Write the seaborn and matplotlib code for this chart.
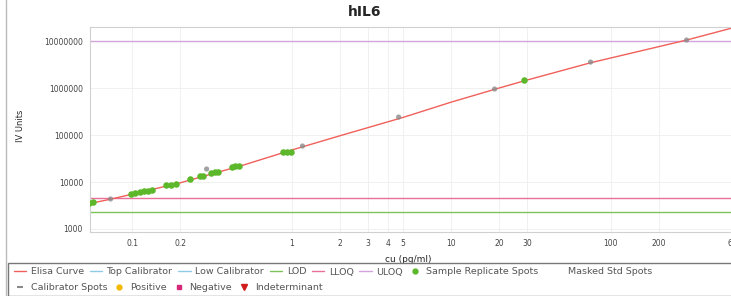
import numpy as np
import pandas as pd
import matplotlib
matplotlib.use("Agg")
import matplotlib.pyplot as plt
import seaborn as sns
from matplotlib.lines import Line2D
from matplotlib.patches import Rectangle

# ---------------- data ----------------
curve_x = [0.054, 0.073, 0.1, 0.2, 0.5, 1, 2, 5, 10, 20, 30, 75, 300, 700]
curve_y = [3480, 4300, 5500, 9600, 23000, 47900, 96000, 237000, 500000,
           1.0e6, 1.48e6, 3.45e6, 1.05e7, 2.25e7]

sample_x = [0.0537, 0.0569, 0.0986, 0.1046, 0.112, 0.119, 0.126, 0.134,
            0.164, 0.174, 0.187, 0.232, 0.268, 0.280, 0.314, 0.333, 0.347,
            0.420, 0.444, 0.471, 0.878, 0.930, 0.986, 28.8]
sample_y = [3570, 3750, 5560, 5820, 6130, 6430, 6590, 6760,
            8630, 8840, 9070, 11600, 13400, 13700, 15500, 16300, 16700,
            20800, 21900, 22400, 42500, 43400, 44400, 1.48e6]

calib_x = [0.0732, 0.293, 1.17, 4.69, 18.75, 75, 300]
calib_y = [4350, 18900, 58300, 241000, 953000, 3.57e6, 1.05e7]

uloq = 1.0e7
lloq = 4500
lod = 2300

x_ticks = [0.1, 0.2, 1, 2, 3, 4, 5, 10, 20, 30, 100, 200, 600]
x_tick_labels = ["0.1", "0.2", "1", "2", "3", "4", "5", "10", "20", "30", "100", "200", "600"]
y_ticks = [1000, 10000, 100000, 1000000, 10000000]
y_tick_labels = ["1000", "10000", "100000", "1000000", "10000000"]

title = "hIL6"
x_label = "cu (pg/ml)"
y_label = "IV Units"

legend_row1 = ["Elisa Curve", "Top Calibrator", "Low Calibrator", "LOD", "LLOQ", "ULOQ",
               "Sample Replicate Spots"]
legend_masked = ["Masked Std Spots"]
legend_row2 = ["Calibrator Spots", "Positive", "Negative", "Indeterminant"]

# ---------------- style ----------------
sns.set_theme(style="white")
plt.rcParams['font.family'] = ['DejaVu Sans']

c_curve = "#f0605a"
c_cal = "#8fcbe6"
c_lod = "#7cc35a"
c_lloq = "#e8709a"
c_uloq = "#d3a3db"
c_sample = "#5cb82a"
c_calspot = "#8a8a8a"

fig = plt.figure(figsize=(7.31, 2.96), dpi=100)
ax = fig.add_axes([90/731, 1-232/296, (745-90)/731, 205/296])

df_curve = pd.DataFrame({"x": curve_x, "y": curve_y})
df_s = pd.DataFrame({"x": sample_x, "y": sample_y})
df_c = pd.DataFrame({"x": calib_x, "y": calib_y})

ax.axhline(uloq, color=c_uloq, lw=1.0, zorder=1)
ax.axhline(lloq, color=c_lloq, lw=1.0, zorder=1)
ax.axhline(lod, color=c_lod, lw=1.0, zorder=1)

sns.lineplot(data=df_curve, x="x", y="y", ax=ax, color=c_curve, lw=1.0, zorder=2)
sns.scatterplot(data=df_s, x="x", y="y", ax=ax, color=c_sample, s=22,
                marker="o", edgecolor=c_sample, linewidth=0, zorder=3)
sns.scatterplot(data=df_c, x="x", y="y", ax=ax, color=c_calspot, s=14,
                marker="o", edgecolor="none", linewidth=0, alpha=0.8, zorder=4)

ax.set_xscale("log")
ax.set_yscale("log")
ax.set_xlim(0.0544, 697)
ax.set_ylim(863, 1.99e7)
ax.set_xticks(x_ticks)
ax.set_xticklabels(x_tick_labels)
ax.xaxis.set_minor_locator(matplotlib.ticker.NullLocator())
ax.set_yticks(y_ticks)
ax.set_yticklabels(y_tick_labels)
ax.yaxis.set_minor_locator(matplotlib.ticker.NullLocator())
ax.tick_params(axis="both", labelsize=5.5, colors="#444444", length=0, pad=5)
ax.grid(True, color="#eeeeee", lw=0.6)
for s in ax.spines.values():
    s.set_color("#d0d0d0")
    s.set_linewidth(0.8)
ax.set_xlabel(x_label, fontsize=6.5)
ax.set_ylabel(y_label, fontsize=6)
ax.xaxis.set_label_coords((408-90)/655, -0.11)
ax.yaxis.set_label_coords((25-90)/655, 0.52)

fig.text(365/731, 1-12/296, title, ha="center", va="center", fontsize=10, fontweight="bold")

# legend
h1 = [
    Line2D([], [], color=c_curve, lw=1),
    Line2D([], [], color=c_cal, lw=1),
    Line2D([], [], color=c_cal, lw=1),
    Line2D([], [], color=c_lod, lw=1),
    Line2D([], [], color=c_lloq, lw=1),
    Line2D([], [], color=c_uloq, lw=1),
    Line2D([], [], color=c_sample, marker="o", ls="none", ms=3.5),
]
hm = [Line2D([], [], color="none", marker="None", ls="none")]
h2 = [
    Line2D([], [], color=c_calspot, marker="_", ls="none", ms=4, mew=1.5),
    Line2D([], [], color="#f5b800", marker="o", ls="none", ms=3.5),
    Line2D([], [], color="#d6287a", marker="s", ls="none", ms=3.5),
    Line2D([], [], color="#d01c1c", marker="v", ls="none", ms=4),
]

kw = dict(frameon=False, fontsize=6.8, handlelength=1.3, handletextpad=0.5,
          columnspacing=0.6, borderaxespad=0, labelcolor="#555555")
fig.legend(h1, legend_row1, ncol=7, loc="center left", bbox_to_anchor=(10/731, 1-272/296), **kw)
fig.legend(hm, legend_masked, ncol=1, loc="center left", bbox_to_anchor=(547/731, 1-272/296), **kw)
fig.legend(h2, legend_row2, ncol=4, loc="center left", bbox_to_anchor=(10/731, 1-288/296), **kw)

fig.patches.append(Rectangle((8/731, 0.0), 740/731, (296-263)/296, transform=fig.transFigure,
                             fill=False, edgecolor="#777777", lw=1.0))
fig.lines.append(Line2D([6/731, 6/731], [0, 1], transform=fig.transFigure,
                        color="#bbbbbb", lw=1.0))

fig.savefig("out.png", dpi=100)
